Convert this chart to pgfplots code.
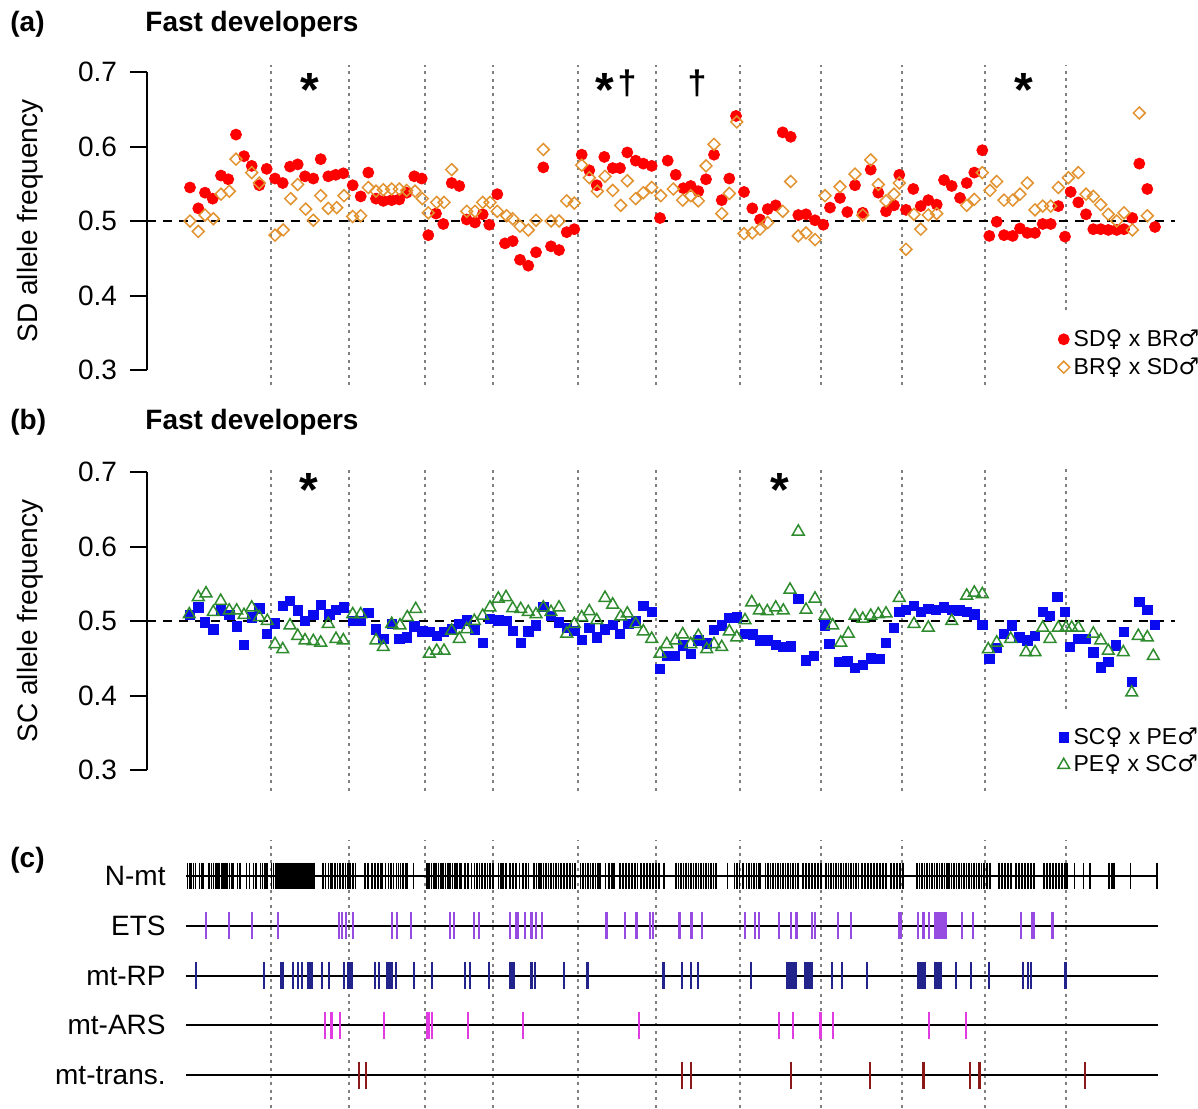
\documentclass[border=0pt]{standalone}
\usepackage{pgfplots}
\pgfplotsset{compat=1.18}
\usepackage{fontspec}
\setmainfont{Liberation Sans}
\newfontfamily\sym{DejaVu Sans}
\definecolor{cRed}{RGB}{255,0,0}
\definecolor{cOrange}{RGB}{226,146,46}
\definecolor{cBlue}{RGB}{10,10,240}
\definecolor{cGreen}{RGB}{46,139,46}
\definecolor{cETS}{RGB}{150,75,225}
\definecolor{cRP}{RGB}{35,35,140}
\definecolor{cARS}{RGB}{225,60,225}
\definecolor{cTrans}{RGB}{140,25,25}
\definecolor{cDot}{RGB}{128,128,128}
\newcommand{\fem}{{\sym\char"2640}}
\newcommand{\mal}{{\sym\char"2642}}
\tikzset{
  star/.style={anchor=base, inner sep=0pt, font=\fontsize{24}{24}\selectfont\bfseries},
  dagg/.style={anchor=base, inner sep=0pt, font=\fontsize{17}{17}\selectfont\bfseries},
}
\pgfplotsset{
  freqaxis/.style={
    scale only axis, width=514pt, height=149pt, anchor=south west,
    xmin=147, xmax=1175, ymin=0.3, ymax=0.7,
    axis x line=none, axis y line*=left,
    axis line style={line width=1pt},
    y axis line style={-},
    ytick={0.3,0.4,0.5,0.6,0.7},
    yticklabels={0.3,0.4,0.5,0.6,0.7},
    /pgf/number format/assume math mode=true,
    tick align=outside, major tick length=8.5pt,
    every tick/.style={line width=1pt, black},
    yticklabel style={font=\fontsize{14}{16}\selectfont, xshift=-3pt},
    every axis y label/.style={at={(axis description cs:-0.1138,0.5)}, rotate=90, anchor=center, font=\fontsize{14}{16}\selectfont},
    clip=false,
    legend cell align=left,
    legend image post style={xshift=-4.5pt},
    legend style={draw=none, fill=none, font=\fontsize{11.5}{13.5}\selectfont, anchor=north west, row sep=0pt, inner sep=0pt},
  },
  vdot/.style={cDot, line width=0.8pt, dash pattern=on 1.5pt off 2.2pt, forget plot},
  hdash/.style={black, line width=0.8pt, dash pattern=on 4.5pt off 3.5pt, forget plot},
}
\begin{document}
\begin{tikzpicture}
\path[use as bounding box] (0,0) rectangle (599pt,-554pt);
\node[anchor=west, inner sep=0pt, font=\fontsize{14}{16}\selectfont\bfseries] at (5pt,-12pt) {(a)};
\node[anchor=west, inner sep=0pt, font=\fontsize{14}{16}\selectfont\bfseries] at (72.5pt,-12pt) {Fast developers};
\node[anchor=west, inner sep=0pt, font=\fontsize{14}{16}\selectfont\bfseries] at (5pt,-211pt) {(b)};
\node[anchor=west, inner sep=0pt, font=\fontsize{14}{16}\selectfont\bfseries] at (72.5pt,-211pt) {Fast developers};
\node[anchor=west, inner sep=0pt, font=\fontsize{14}{16}\selectfont\bfseries] at (5pt,-430pt) {(c)};

% ---------------- panel (a)
\begin{axis}[freqaxis, at={(73.5pt,-185pt)}, ylabel={SD allele frequency},
  legend style={at={(0.8856,0.151)}}]
\pgfplotsinvokeforeach{271,349,425,493,578,656,740,821,902,985}{
  \addplot[vdot] coordinates {(#1,0.28) (#1,0.71)};}
\addplot[vdot] coordinates {(1066,0.38) (1066,0.71)};
\addplot[hdash] coordinates {(147,0.5) (1175,0.5)};
\addplot[only marks, mark=*, mark size=2.75pt, color=cRed] coordinates {
(190,0.545) (198.3,0.517) (205,0.538) (212.7,0.530) (221,0.561) (228.3,0.556) (236,0.616) (244,0.587) (251.7,0.574) (259.3,0.548) (266.7,0.570) (275,0.557) (282.7,0.551) (290,0.573) (297.7,0.576) (305,0.560) (313.3,0.557) (320.7,0.583) (328.3,0.560) (335.7,0.562) (343.3,0.564) (352.7,0.548) (360.7,0.533) (368.3,0.565) (376,0.530) (383.3,0.527) (391.7,0.528) (399.3,0.529) (406.7,0.538) (414.3,0.560) (421.7,0.557) (428.3,0.481) (436,0.510) (443.3,0.496) (451.7,0.551) (459.3,0.547) (466.7,0.502) (475,0.498) (482.7,0.509) (489.3,0.495) (497.3,0.536) (505,0.470) (512.7,0.473) (520,0.448) (528.3,0.440) (536,0.458) (543.3,0.572) (551,0.466) (559,0.461) (566.7,0.485) (574.3,0.489) (581.7,0.589) (589.3,0.568) (596.7,0.548) (604.3,0.586) (612.7,0.571) (620,0.571) (627.3,0.592) (635.7,0.581) (643.3,0.577) (651.7,0.574) (660,0.504) (667.7,0.581) (675.7,0.562) (683.3,0.544) (690.7,0.547) (698.3,0.540) (706,0.556) (714,0.589) (721.7,0.528) (729.3,0.557) (736,0.641) (744,0.539) (752.3,0.517) (760,0.502) (767.7,0.516) (775.7,0.521) (782.7,0.619) (790.7,0.613) (798.3,0.508) (806,0.509) (815,0.501) (823.3,0.495) (830,0.518) (840,0.531) (847.3,0.512) (855,0.548) (862.7,0.511) (870.7,0.569) (878.3,0.538) (886,0.513) (894,0.521) (899.3,0.562) (906,0.515) (913.3,0.543) (920.7,0.520) (928.3,0.528) (936.7,0.522) (944,0.555) (951.7,0.547) (960,0.531) (966.7,0.551) (974.3,0.565) (982.3,0.595) (989.3,0.480) (996.7,0.499) (1004,0.481) (1012.7,0.480) (1020,0.490) (1027.3,0.484) (1035,0.484) (1042.7,0.496) (1050.7,0.496) (1058.3,0.520) (1065,0.479) (1070.7,0.539) (1078.3,0.525) (1086,0.509) (1093.3,0.489) (1100.7,0.489) (1108.3,0.488) (1116.7,0.488) (1124,0.489) (1132.3,0.504) (1139.3,0.577) (1147.3,0.543) (1155,0.492)
};
\addlegendentry{SD\fem{} x BR\mal}
\addplot[only marks, mark=square, mark size=2.1pt, color=cOrange, mark options={rotate=45, line width=0.75pt}] coordinates {
(190,0.500) (198.3,0.486) (205,0.508) (213.3,0.503) (221,0.536) (229.3,0.540) (236,0.583) (251.7,0.565) (259.3,0.551) (275,0.481) (283.3,0.488) (290.7,0.530) (297.7,0.549) (305.7,0.516) (313.3,0.501) (320.7,0.534) (328.3,0.517) (336.7,0.518) (344,0.534) (352.7,0.506) (360.7,0.507) (368.3,0.545) (376,0.540) (383.3,0.542) (391.7,0.543) (399.3,0.543) (406.7,0.541) (415,0.540) (422.3,0.530) (428.3,0.511) (436.7,0.525) (444,0.525) (451.7,0.569) (466.7,0.513) (475,0.513) (482.7,0.525) (490,0.525) (497.3,0.513) (506.7,0.507) (512.7,0.503) (520,0.493) (528.3,0.488) (536,0.501) (543.3,0.596) (551,0.500) (559,0.500) (566.7,0.527) (574.3,0.524) (581.7,0.575) (589.3,0.558) (597.3,0.540) (605,0.560) (612.7,0.541) (620.7,0.521) (627.3,0.554) (635.7,0.530) (643.3,0.538) (651.7,0.545) (660.7,0.534) (673.3,0.543) (682.7,0.528) (690.7,0.534) (698.3,0.527) (706,0.574) (714,0.603) (721.7,0.510) (729.3,0.537) (736.7,0.633) (744,0.483) (752.3,0.484) (760,0.489) (767.7,0.498) (782.7,0.513) (790.7,0.553) (798.3,0.480) (806,0.484) (815,0.475) (825,0.534) (840,0.546) (855,0.563) (862.7,0.508) (870.7,0.582) (878.3,0.549) (886,0.527) (894,0.536) (899.3,0.551) (906,0.462) (914,0.509) (920.7,0.489) (928.3,0.508) (936.7,0.510) (966.7,0.521) (974.3,0.529) (982.3,0.565) (990,0.541) (996.7,0.553) (1004,0.528) (1012.7,0.528) (1020,0.536) (1027.3,0.551) (1035,0.515) (1042.7,0.520) (1050.7,0.520) (1058.3,0.545) (1068.3,0.558) (1078.3,0.565) (1086,0.536) (1093.3,0.533) (1100.7,0.522) (1108.3,0.509) (1116.7,0.500) (1124,0.511) (1132.3,0.488) (1139.3,0.645) (1147.3,0.507)
};
\addlegendentry{BR\fem{} x SD\mal}
\node[star] at (axis cs:310,0.654) {*};
\node[star] at (axis cs:605,0.654) {*};
\node[dagg] at (axis cs:627,0.670) {†};
\node[dagg] at (axis cs:697,0.670) {†};
\node[star] at (axis cs:1024,0.654) {*};
\end{axis}

% ---------------- panel (b)
\begin{axis}[freqaxis, at={(73.5pt,-385pt)}, ylabel={SC allele frequency},
  legend style={at={(0.8856,0.158)}}]
\pgfplotsinvokeforeach{271,349,425,493,578,656,740,821,902,985}{
  \addplot[vdot] coordinates {(#1,0.272) (#1,0.708)};}
\addplot[vdot] coordinates {(1066,0.382) (1066,0.708)};
\addplot[hdash] coordinates {(147,0.5) (1175,0.5)};
\addplot[only marks, mark=square*, mark size=2.35pt, color=cBlue] coordinates {
(190,0.508) (198.3,0.518) (205,0.498) (213.3,0.489) (221,0.514) (229.3,0.508) (236.7,0.493) (244,0.468) (251.7,0.505) (259.3,0.517) (266.7,0.483) (275,0.497) (282.7,0.520) (290,0.527) (297.7,0.514) (305,0.500) (313.3,0.508) (320.7,0.522) (329.3,0.509) (336,0.515) (344,0.518) (352.7,0.500) (360.7,0.500) (368.3,0.511) (376,0.489) (383.3,0.476) (391.7,0.496) (399.3,0.476) (406.7,0.478) (414.3,0.493) (422.3,0.486) (430,0.485) (436.7,0.480) (444,0.485) (451.7,0.489) (459.3,0.496) (466.7,0.501) (475,0.489) (482.7,0.471) (490,0.503) (498.3,0.501) (506.7,0.500) (512.7,0.487) (520.7,0.471) (528.3,0.486) (536,0.494) (543.3,0.519) (551,0.507) (559,0.498) (566.7,0.491) (574.3,0.487) (581.7,0.475) (589.3,0.491) (596.7,0.478) (605,0.489) (612.7,0.495) (620,0.483) (628.3,0.496) (636,0.500) (643.3,0.520) (651.7,0.512) (660,0.436) (666.7,0.453) (675,0.453) (682.7,0.467) (691,0.456) (698.3,0.474) (706.7,0.470) (714,0.488) (721.7,0.494) (729.3,0.504) (736.7,0.505) (745,0.483) (752.7,0.482) (760,0.474) (767.7,0.474) (775.7,0.468) (783.3,0.465) (791,0.466) (798.3,0.530) (806,0.447) (814,0.453) (825,0.494) (829.3,0.469) (839.3,0.445) (847.3,0.446) (855,0.437) (862.7,0.441) (870.7,0.450) (879.3,0.449) (886,0.471) (894,0.491) (899.3,0.512) (906,0.515) (914,0.520) (920.7,0.512) (928.3,0.516) (936,0.515) (944,0.518) (951.7,0.515) (959.3,0.514) (966.7,0.512) (974.3,0.509) (982.3,0.495) (989.3,0.449) (996.7,0.464) (1004,0.483) (1011.7,0.494) (1019.3,0.478) (1027.3,0.474) (1035,0.480) (1042.7,0.512) (1050,0.507) (1057.3,0.532) (1065,0.512) (1070,0.465) (1078.3,0.476) (1086,0.476) (1093.3,0.458) (1100.7,0.438) (1108.3,0.445) (1116,0.467) (1124,0.485) (1131.7,0.418) (1139.3,0.526) (1147.3,0.515) (1155,0.495)
};
\addlegendentry{SC\fem{} x PE\mal}
\addplot[only marks, mark=triangle, mark size=3.4pt, color=cGreen, mark options={line width=0.75pt}] coordinates {
(189.3,0.509) (198.3,0.532) (206,0.537) (213.3,0.512) (220.7,0.527) (229.3,0.514) (236.7,0.514) (244,0.508) (251.7,0.518) (259.3,0.505) (267.3,0.500) (275,0.469) (282.7,0.462) (290,0.494) (297.7,0.480) (305,0.474) (313.3,0.473) (320.7,0.471) (328.3,0.496) (336,0.476) (343.3,0.474) (352.7,0.509) (360.7,0.509) (376,0.474) (383.3,0.465) (391.7,0.496) (400,0.494) (407.3,0.505) (415.7,0.516) (429.3,0.456) (436.7,0.460) (444,0.460) (451.7,0.487) (459.3,0.476) (466.7,0.489) (474.3,0.500) (482.7,0.507) (490,0.518) (498.3,0.530) (506,0.532) (512.7,0.517) (520.7,0.516) (528.3,0.512) (536,0.509) (543.3,0.518) (551,0.512) (559,0.518) (566.7,0.483) (574.3,0.496) (581.7,0.505) (589.3,0.513) (596.7,0.501) (605,0.531) (612.7,0.522) (620.7,0.506) (627.3,0.510) (635.7,0.496) (643.3,0.486) (651.7,0.476) (660,0.456) (666.7,0.469) (675.7,0.474) (682.7,0.482) (690.7,0.469) (698.3,0.480) (706.7,0.462) (714,0.469) (721.7,0.465) (729.3,0.486) (736.7,0.478) (745,0.501) (751.7,0.525) (759.3,0.514) (767.3,0.513) (775.7,0.518) (783.3,0.514) (790,0.542) (798.3,0.620) (806,0.515) (815,0.530) (825,0.507) (832.7,0.494) (840.7,0.471) (848.3,0.483) (855,0.507) (862.7,0.503) (870.7,0.507) (878.3,0.509) (886,0.510) (899.3,0.531) (914,0.496) (928.3,0.491) (951.7,0.500) (966.7,0.534) (974.3,0.538) (982.3,0.536) (988.3,0.462) (996.7,0.471) (1010.7,0.476) (1026,0.458) (1035,0.458) (1042.7,0.491) (1050,0.476) (1058.3,0.491) (1066,0.491) (1071.7,0.491) (1078.3,0.491) (1093.3,0.483) (1100.7,0.474) (1108.3,0.460) (1123.3,0.458) (1131.7,0.404) (1138.3,0.480) (1147.3,0.478) (1153.3,0.453)
};
\addlegendentry{PE\fem{} x SC\mal}
\node[star] at (axis cs:309,0.654) {*};
\node[star] at (axis cs:780,0.654) {*};
\end{axis}

% ---------------- panel (c)
\begin{axis}[at={(73.5pt,-553.75pt)}, anchor=south west, scale only axis, width=514pt, height=133.25pt,
  xmin=147, xmax=1175, ymin=0.35, ymax=5.7, hide axis, clip=false]
\pgfplotsinvokeforeach{271,349,425,493,578,656,740,821,902,985,1066}{
  \addplot[vdot] coordinates {(#1,0.35) (#1,5.72)};}
\pgfplotsinvokeforeach{1,2,3,4,5}{
  \addplot[black, line width=1pt, forget plot] coordinates {(186,#1) (1158,#1)};}
\node[anchor=east, inner sep=0pt, font=\fontsize{14}{16}\selectfont] at (axis cs:166,5) {N-mt};
\node[anchor=east, inner sep=0pt, font=\fontsize{14}{16}\selectfont] at (axis cs:166,4) {ETS};
\node[anchor=east, inner sep=0pt, font=\fontsize{14}{16}\selectfont] at (axis cs:166,3) {mt-RP};
\node[anchor=east, inner sep=0pt, font=\fontsize{14}{16}\selectfont] at (axis cs:166,2) {mt-ARS};
\node[anchor=east, inner sep=0pt, font=\fontsize{14}{16}\selectfont] at (axis cs:166,1) {mt-trans.};
% N-mt
\addplot[only marks, mark=|, mark size=6.6pt, mark options={line width=0.75pt, black}] coordinates {
(187.5,5) (189.3,5) (191,5) (193.6,5) (195.7,5) (199.3,5) (201.8,5) (203.6,5) (208.9,5) (211.4,5) (213.6,5) (216.1,5) (217.9,5) (219.6,5) (221.4,5) (223.2,5) (225,5) (226.8,5) (229.3,5) (231.4,5) (232.9,5) (237.5,5) (240,5) (246.4,5) (249.3,5) (253.6,5) (256.1,5) (260.7,5) (262.5,5) (265,5) (267.1,5) (271.5,5) (273.5,5) (275.5,5) (277,5) (279,5) (281,5) (283,5) (285,5) (287,5) (289,5) (291,5) (293,5) (295,5) (297,5) (299,5) (301,5) (303,5) (305,5) (307,5) (309,5) (311,5) (313,5) (314.5,5) (323,5) (325.5,5) (328.5,5) (330.5,5) (332,5) (335,5) (337.5,5) (340,5) (343,5) (345.5,5) (348,5) (350,5) (352.9,5) (355.4,5) (365,5) (367.9,5) (372.1,5) (375,5) (377.9,5) (380.4,5) (382.1,5) (385.7,5) (388.6,5) (391,5) (393.6,5) (396.4,5) (398.6,5) (400.7,5) (402.9,5) (405.4,5) (407.1,5) (413.6,5) (427,5) (429,5) (431.5,5) (434,5) (436,5) (438.5,5) (441,5) (443,5) (445.5,5) (448,5) (450,5) (452.5,5) (455,5) (457,5) (459.5,5) (461,5) (465,5) (467.9,5) (471.4,5) (474.3,5) (476.8,5) (479.3,5) (482.1,5) (485,5) (487.5,5) (490,5) (492.9,5) (498.5,5) (501,5) (503,5) (506,5) (510,5) (513,5) (516,5) (519.5,5) (523,5) (526,5) (528.5,5) (534,5) (536.5,5) (539,5) (541,5) (543.5,5) (546,5) (548.5,5) (551,5) (553.5,5) (556,5) (558.5,5) (561,5) (564,5) (567,5) (570,5) (572.5,5) (575,5) (580.5,5) (583,5) (585.5,5) (588,5) (590.5,5) (593,5) (595.5,5) (598,5) (600,5) (605.5,5) (609,5) (612,5) (614,5) (620,5) (623,5) (626,5) (629,5) (632,5) (635,5) (637.5,5) (641,5) (644,5) (647,5) (650,5) (653,5) (656,5) (659,5) (664,5) (676,5) (678.5,5) (681,5) (683.5,5) (686,5) (688.5,5) (691,5) (693.5,5) (696,5) (698.5,5) (701,5) (703.5,5) (706,5) (708.5,5) (711,5) (713.5,5) (716,5) (727.6,5) (734.5,5) (737,5) (739.5,5) (743,5) (746.5,5) (749,5) (751.5,5) (754,5) (756.5,5) (759,5) (760.5,5) (765.5,5) (768,5) (770.5,5) (773,5) (775.5,5) (778,5) (780.5,5) (783,5) (785.5,5) (788,5) (790.5,5) (793,5) (795.5,5) (798,5) (803,5) (806,5) (809,5) (812,5) (815,5) (818,5) (821,5) (826,5) (828.5,5) (831,5) (833.5,5) (836,5) (838.5,5) (841,5) (843.5,5) (846,5) (848.5,5) (851,5) (853.5,5) (856,5) (858.5,5) (862,5) (865,5) (868,5) (871,5) (874,5) (877,5) (880,5) (883,5) (886,5) (891,5) (894,5) (897,5) (900,5) (903,5) (917,5) (919.5,5) (922,5) (924.5,5) (927,5) (929.5,5) (932,5) (934.5,5) (937,5) (939.5,5) (942,5) (944.5,5) (947,5) (949,5) (951.5,5) (954,5) (956.5,5) (959,5) (961.5,5) (964,5) (966.5,5) (969,5) (971.5,5) (974,5) (976.5,5) (979,5) (981.5,5) (984,5) (987,5) (990,5) (999,5) (1002,5) (1005,5) (1008,5) (1011,5) (1016,5) (1019,5) (1022,5) (1025,5) (1028,5) (1031,5) (1034,5) (1044,5) (1047,5) (1050,5) (1053,5) (1056,5) (1059,5) (1062,5) (1065,5) (1067,5) (1074.7,5) (1083.3,5) (1090,5) (1109,5) (1112,5) (1114,5) (1130.7,5) (1157,5)
};
% ETS
\addplot[only marks, mark=|, mark size=6.8pt, mark options={line width=1.1pt, cETS}] coordinates {
(206.1,4) (229.3,4) (251.8,4) (277.9,4) (338.6,4) (342.1,4) (345.7,4) (352.9,4) (392.1,4) (397.1,4) (410.7,4) (450,4) (454.3,4) (474.3,4) (478.6,4) (510,4) (516.1,4) (517.9,4) (525,4) (531.4,4) (535.7,4) (542.1,4) (606.4,4) (625,4) (636.4,4) (650.3,4) (653,4) (679.5,4) (691.5,4) (701.9,4) (744.8,4) (755.1,4) (758.6,4) (779.2,4) (791.2,4) (796.4,4) (811.8,4) (815.3,4) (837.6,4) (851.3,4) (899.5,4) (901.2,4) (918.3,4) (923.5,4) (928.7,4) (935.5,4) (936.5,4) (937.5,4) (938.5,4) (939.5,4) (940.5,4) (941.5,4) (942.5,4) (943.5,4) (944.5,4) (945.5,4) (962,4) (973.3,4) (1020.8,4) (1031.8,4) (1033.5,4) (1052.4,4)
};
% mt-RP
\addplot[only marks, mark=|, mark size=6.8pt, mark options={line width=1.1pt, cRP}] coordinates {
(195.7,3) (264.3,3) (281.4,3) (282.9,3) (292.9,3) (298.2,3) (301.8,3) (307.9,3) (308.9,3) (310,3) (311.1,3) (312.1,3) (322.1,3) (328.6,3) (343.6,3) (348.2,3) (350,3) (351.8,3) (375,3) (378.6,3) (387.5,3) (390,3) (392.1,3) (395.7,3) (414.3,3) (432.1,3) (465,3) (469.6,3) (488.6,3) (510,3) (511.4,3) (513.6,3) (531.4,3) (535,3) (563.6,3) (587.5,3) (663.4,3) (681.9,3) (690.9,3) (697.7,3) (750.7,3) (787,3) (789,3) (791,3) (793,3) (795.5,3) (805,3) (807,3) (809,3) (811.5,3) (831.8,3) (842,3) (866.8,3) (917.7,3) (920,3) (922.5,3) (925.2,3) (935.5,3) (937.3,3) (939,3) (940.7,3) (956.2,3) (970.6,3) (988.8,3) (1023.2,3) (1028.3,3) (1031,3) (1065.4,3)
};
% mt-ARS
\addplot[only marks, mark=|, mark size=6.8pt, mark options={line width=1.1pt, cARS}] coordinates {
(325,2) (331.4,2) (340,2) (383.9,2) (426.8,2) (428.6,2) (432.1,2) (467.9,2) (523.2,2) (639.3,2) (779.2,2) (792.9,2) (820.4,2) (833.1,2) (928.7,2) (965.8,2)
};
% mt-trans.
\addplot[only marks, mark=|, mark size=6.8pt, mark options={line width=1.1pt, cTrans}] coordinates {
(358.9,1) (366.1,1) (681.9,1) (690.9,1) (791.2,1) (870.2,1) (923.5,1) (969.9,1) (979.5,1) (1085,1)
};
\end{axis}
\end{tikzpicture}
\end{document}
